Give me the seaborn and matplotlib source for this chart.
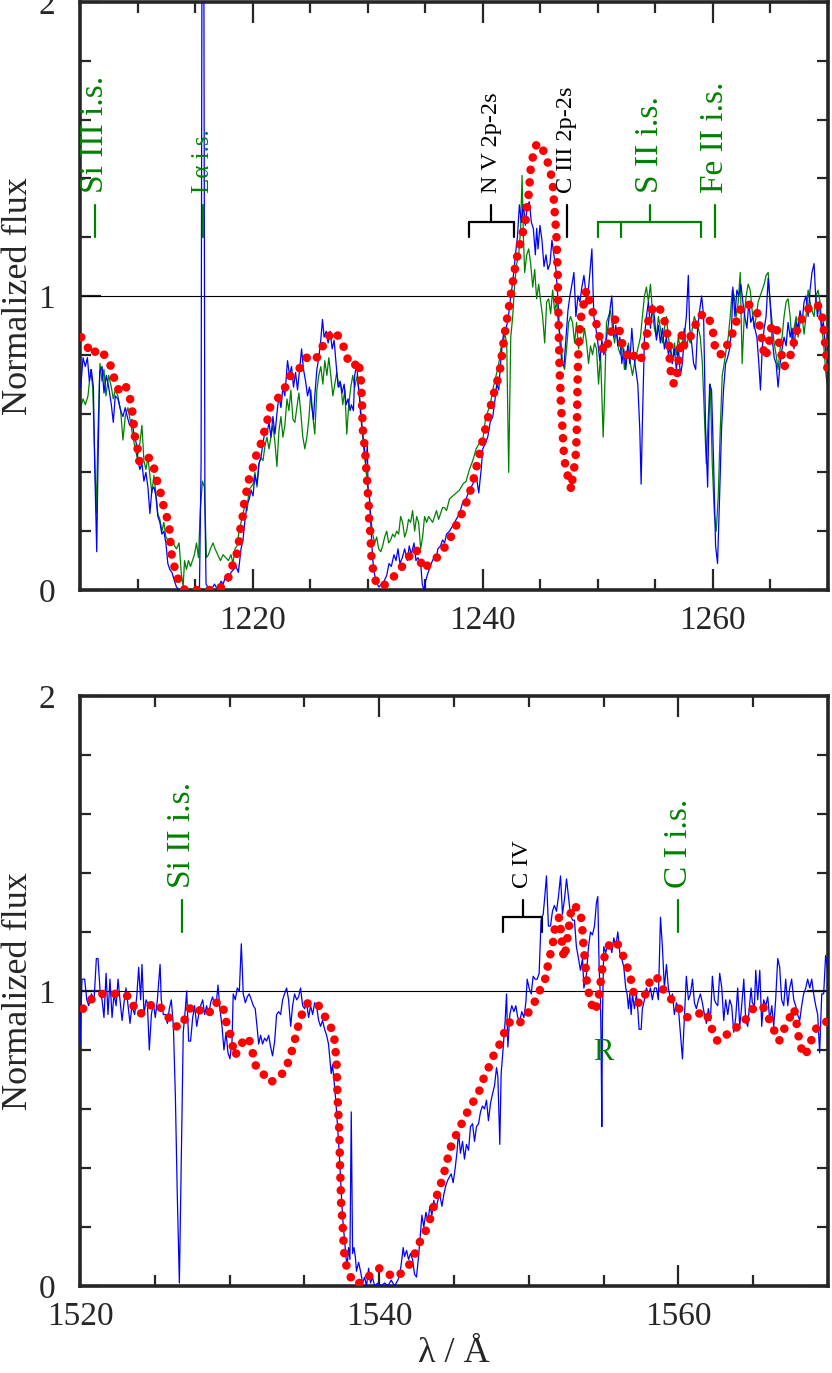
import numpy as np
import pandas as pd
import matplotlib
matplotlib.use('Agg')
import matplotlib.pyplot as plt
import seaborn as sns
from matplotlib.ticker import MultipleLocator

sns.set_style('ticks')
plt.rcParams['font.family'] = ['Liberation Serif', 'DejaVu Serif']

# ---- top panel (N V region) ----
# blue: observed spectrum
wave_blue_top = [1205.06, 1205.26, 1205.46, 1205.64, 1205.81, 1205.98, 1206.16, 1206.27, 1206.45, 1206.56,
    1206.71, 1206.91, 1207.08, 1207.28, 1207.49, 1207.72, 1207.89, 1208.06, 1208.29, 1208.53,
    1208.73, 1208.93, 1209.10, 1209.31, 1209.51, 1209.68, 1209.88, 1210.03, 1210.20, 1210.38,
    1210.55, 1210.72, 1210.90, 1211.07, 1211.24, 1211.42, 1211.59, 1211.76, 1211.94, 1212.11,
    1212.28, 1212.46, 1212.63, 1212.80, 1212.98, 1213.21, 1213.38, 1213.64, 1214.36, 1215.09,
    1215.38, 1215.52, 1215.60, 1215.75, 1215.85, 1215.95, 1216.10, 1216.39, 1216.68, 1216.97,
    1217.25, 1217.43, 1217.69, 1217.89, 1218.12, 1218.35, 1218.55, 1218.76, 1218.99, 1219.16,
    1219.34, 1219.51, 1219.71, 1219.86, 1220.03, 1220.20, 1220.38, 1220.55, 1220.72, 1220.90,
    1221.07, 1221.24, 1221.42, 1221.59, 1221.76, 1221.94, 1222.11, 1222.28, 1222.46, 1222.63,
    1222.80, 1223.03, 1223.21, 1223.38, 1223.55, 1223.73, 1223.90, 1224.08, 1224.25, 1224.42,
    1224.60, 1224.77, 1224.94, 1225.12, 1225.29, 1225.40, 1225.58, 1225.75, 1225.92, 1226.07,
    1226.21, 1226.39, 1226.56, 1226.73, 1226.91, 1227.08, 1227.25, 1227.43, 1227.60, 1227.77,
    1227.95, 1228.12, 1228.29, 1228.47, 1228.58, 1228.76, 1228.87, 1229.05, 1229.16, 1229.28,
    1229.39, 1229.54, 1229.68, 1229.83, 1229.97, 1230.03, 1230.14, 1230.26, 1230.38, 1230.49,
    1230.69, 1230.98, 1231.18, 1231.42, 1231.65, 1231.85, 1232.05, 1232.28, 1232.46, 1232.63,
    1232.80, 1233.01, 1233.21, 1233.44, 1233.61, 1233.79, 1234.02, 1234.19, 1234.36, 1234.60,
    1234.74, 1234.88, 1235.03, 1235.17, 1235.35, 1235.52, 1235.75, 1235.92, 1236.10, 1236.33,
    1236.50, 1236.68, 1236.85,
    1237.11, 1237.40, 1237.69, 1237.98, 1238.27, 1238.55, 1238.84, 1239.13, 1239.42, 1239.65,
    1239.86, 1240.00, 1240.23, 1240.43, 1240.64, 1240.87, 1241.04, 1241.21, 1241.39, 1241.50,
    1241.68, 1241.85, 1242.02, 1242.20, 1242.37, 1242.54, 1242.72, 1242.83, 1243.01, 1243.18,
    1243.35, 1243.53, 1243.70, 1243.87, 1244.05, 1244.22, 1244.39, 1244.57, 1244.68, 1244.80,
    1244.97, 1245.14, 1245.32, 1245.49, 1245.66, 1245.84, 1246.01, 1246.18, 1246.36, 1246.53,
    1246.71, 1246.88, 1247.05, 1247.23, 1247.40, 1247.57, 1247.75, 1247.92, 1248.09, 1248.27,
    1248.44, 1248.61, 1248.79, 1248.96, 1249.13, 1249.31, 1249.48, 1249.65, 1249.83, 1250.00,
    1250.17, 1250.35, 1250.52, 1250.69, 1250.87, 1251.04, 1251.21, 1251.39, 1251.56, 1251.73,
    1251.91, 1252.08, 1252.25, 1252.43, 1252.60, 1252.77, 1252.95, 1253.12, 1253.29, 1253.47,
    1253.64, 1253.76, 1253.87, 1254.05, 1254.22, 1254.39, 1254.57, 1254.74, 1254.91, 1255.09,
    1255.26, 1255.43, 1255.61, 1255.78, 1255.95, 1256.13, 1256.30, 1256.47, 1256.65, 1256.82,
    1256.99, 1257.17, 1257.34, 1257.51, 1257.69, 1257.86, 1257.98, 1258.15, 1258.32, 1258.50,
    1258.67, 1258.84, 1259.02, 1259.19, 1259.36, 1259.54, 1259.71, 1259.88, 1260.06, 1260.23,
    1260.40, 1260.58, 1260.75, 1260.92, 1261.10, 1261.27, 1261.45, 1261.62, 1261.73, 1261.91,
    1262.08, 1262.25, 1262.43, 1262.60, 1262.77, 1262.95, 1263.12, 1263.29, 1263.47, 1263.64,
    1263.82, 1263.99, 1264.13, 1264.28, 1264.45, 1264.62, 1264.80, 1264.97, 1265.14, 1265.32,
    1265.49, 1265.66, 1265.84, 1266.01, 1266.18, 1266.36, 1266.53, 1266.71, 1266.88, 1267.05,
    1267.23, 1267.40, 1267.57, 1267.75, 1267.92, 1268.09, 1268.27, 1268.44, 1268.61, 1268.79,
    1268.90, 1269.08, 1269.25, 1269.42, 1269.60, 1269.77, 1270.00]
flux_blue_top = [0.69, 0.79, 0.76, 0.79, 0.71, 0.75, 0.69, 0.43, 0.13, 0.43,
    0.74, 0.76, 0.67, 0.73, 0.69, 0.63, 0.57, 0.66, 0.65, 0.61,
    0.59, 0.62, 0.59, 0.56, 0.58, 0.53, 0.50, 0.44, 0.41, 0.43,
    0.37, 0.40, 0.35, 0.26, 0.34, 0.35, 0.32, 0.25, 0.23, 0.19,
    0.20, 0.16, 0.09, 0.07, 0.06, 0.03, 0.01, 0.00, 0.00, 0.00,
    0.01, 0.43, 2.30, 2.30, 0.30, 0.02, 0.01, 0.00, 0.02, 0.00,
    0.03, 0.02, 0.05, 0.03, 0.06, 0.07, 0.08, 0.06, 0.14, 0.17,
    0.24, 0.29, 0.31, 0.34, 0.32, 0.39, 0.36, 0.43, 0.45, 0.50,
    0.54, 0.53, 0.57, 0.52, 0.59, 0.53, 0.60, 0.66, 0.62, 0.69,
    0.66, 0.78, 0.73, 0.76, 0.69, 0.74, 0.68, 0.75, 0.82, 0.75,
    0.71, 0.66, 0.69, 0.63, 0.58, 0.66, 0.75, 0.79, 0.85, 0.92,
    0.86, 0.88, 0.84, 0.88, 0.82, 0.85, 0.77, 0.69, 0.71, 0.67,
    0.70, 0.63, 0.65, 0.61, 0.63, 0.61, 0.73, 0.77, 0.70, 0.66,
    0.59, 0.54, 0.50, 0.43, 0.49, 0.34, 0.32, 0.23, 0.14, 0.08,
    0.03, 0.01, 0.02, 0.03, 0.05, 0.09, 0.08, 0.12, 0.10, 0.14,
    0.09, 0.11, 0.14, 0.10, 0.15, 0.12, 0.16, 0.10, 0.11, 0.09,
    0.02, 0.00, 0.03, 0.05, 0.07, 0.09, 0.11, 0.10, 0.14, 0.15,
    0.17, 0.16, 0.19,
    0.20, 0.22, 0.24, 0.26, 0.30, 0.31, 0.34, 0.36, 0.39, 0.33,
    0.41, 0.48, 0.50, 0.52, 0.57, 0.59, 0.64, 0.70, 0.68, 0.75,
    0.83, 0.89, 0.89, 0.92, 0.98, 1.03, 1.09, 1.14, 1.20, 1.31,
    1.25, 1.31, 1.24, 1.31, 1.32, 1.25, 1.23, 1.14, 1.23, 1.16,
    1.24, 1.19, 1.10, 1.14, 1.09, 1.11, 1.19, 1.14, 1.09, 0.99,
    0.84, 0.77, 0.76, 0.86, 0.95, 1.00, 1.04, 1.08, 0.93, 1.00,
    0.98, 1.03, 1.07, 1.01, 1.00, 1.08, 1.16, 0.93, 0.89, 0.84,
    0.78, 0.85, 0.80, 0.84, 0.89, 0.95, 1.00, 0.86, 0.90, 0.83,
    0.86, 0.77, 0.82, 0.75, 0.83, 0.77, 0.89, 0.80, 0.75, 0.70,
    0.55, 0.36, 0.57, 0.86, 0.93, 0.98, 0.89, 0.97, 0.93, 0.85,
    0.90, 0.84, 0.89, 0.82, 0.86, 0.80, 0.83, 0.77, 0.82, 0.75,
    0.83, 0.73, 0.77, 0.86, 0.93, 1.07, 0.89, 0.84, 0.77, 0.75,
    0.89, 0.95, 1.00, 0.93, 0.55, 0.35, 0.70, 0.68, 0.43, 0.15,
    0.09, 0.32, 0.55, 0.68, 0.77, 0.79, 0.82, 0.89, 1.03, 0.93,
    1.02, 1.00, 1.04, 0.98, 0.93, 0.89, 0.98, 0.91, 0.93, 0.89,
    0.86, 0.77, 0.68, 0.82, 0.89, 0.93, 1.06, 0.98, 0.86, 0.79,
    0.77, 0.69, 0.77, 0.82, 0.86, 0.83, 0.91, 0.86, 0.89, 0.82,
    0.91, 0.89, 0.95, 0.91, 0.98, 1.00, 0.93, 1.02, 1.08, 1.11,
    1.02, 0.93, 0.98, 0.89, 0.91, 0.82, 0.77]

# green: second observation
wave_green_top = [1205.06, 1205.26, 1205.46, 1205.69, 1205.92, 1206.10, 1206.42, 1206.56, 1206.73, 1206.91,
    1207.08, 1207.25, 1207.49, 1207.72, 1207.89, 1208.06, 1208.29, 1208.53, 1208.73, 1208.93,
    1209.16, 1209.39, 1209.60, 1209.80, 1209.97, 1210.20, 1210.38, 1210.55, 1210.72, 1210.90,
    1211.07, 1211.24, 1211.42, 1211.59, 1211.76, 1211.94, 1212.11, 1212.28, 1212.46, 1212.63,
    1212.80, 1213.03, 1213.21, 1213.38, 1213.61, 1213.79, 1213.96, 1214.08, 1214.25, 1214.42,
    1214.60, 1214.77, 1214.94, 1215.12, 1215.29, 1215.46, 1215.64, 1215.81, 1215.98, 1216.16,
    1216.33, 1216.56, 1216.73, 1216.97, 1217.20, 1217.43, 1217.66, 1217.89, 1218.12, 1218.29,
    1218.47, 1218.64, 1218.82, 1218.99, 1219.16, 1219.34, 1219.51, 1219.68, 1219.86, 1220.03,
    1220.20, 1220.38, 1220.55, 1220.72, 1220.90, 1221.07, 1221.24, 1221.42, 1221.59, 1221.76,
    1221.94, 1222.11, 1222.28, 1222.46, 1222.63, 1222.80, 1222.98, 1223.15, 1223.32, 1223.50,
    1223.67, 1223.84, 1224.02, 1224.19, 1224.36, 1224.54, 1224.71, 1224.88, 1225.06, 1225.23,
    1225.40, 1225.58, 1225.75, 1225.92, 1226.10, 1226.27, 1226.45, 1226.62, 1226.79, 1226.97,
    1227.14, 1227.31, 1227.49, 1227.66, 1227.83, 1228.01, 1228.18, 1228.35, 1228.53, 1228.70,
    1228.87, 1229.10, 1229.28, 1229.45, 1229.62, 1229.80, 1229.97, 1230.14, 1230.26, 1230.43,
    1230.61, 1230.78, 1230.95, 1231.13, 1231.30, 1231.47, 1231.65, 1231.82, 1231.99, 1232.17,
    1232.34, 1232.51, 1232.69, 1232.86, 1233.03, 1233.21, 1233.38, 1233.55, 1233.73, 1233.90,
    1234.08, 1234.25, 1234.42, 1234.60, 1234.77, 1234.94, 1235.12, 1235.29, 1235.46, 1235.64,
    1235.81, 1235.98, 1236.16, 1236.33, 1236.50, 1236.68, 1236.85,
    1237.11, 1237.40, 1237.69, 1237.98, 1238.27, 1238.55, 1238.84, 1239.13, 1239.42, 1239.71,
    1240.00, 1240.23, 1240.46, 1240.69, 1240.92, 1241.16, 1241.39, 1241.56, 1241.73, 1241.91,
    1242.08, 1242.25, 1242.43, 1242.60, 1242.77, 1242.95, 1243.12, 1243.29, 1243.41, 1243.53,
    1243.64, 1243.82, 1243.99, 1244.16, 1244.34, 1244.51, 1244.68, 1244.86, 1245.03, 1245.20,
    1245.38, 1245.55, 1245.72, 1245.90, 1246.07, 1246.24, 1246.42, 1246.59, 1246.76, 1246.94,
    1247.11, 1247.28, 1247.46, 1247.63, 1247.80, 1247.98, 1248.15, 1248.32, 1248.50, 1248.67,
    1248.84, 1249.02, 1249.19, 1249.36, 1249.54, 1249.71, 1249.88, 1250.06, 1250.23, 1250.35,
    1250.46, 1250.58, 1250.75, 1250.92, 1251.10, 1251.27, 1251.45, 1251.62, 1251.79, 1251.97,
    1252.14, 1252.31, 1252.49, 1252.66, 1252.83, 1253.01, 1253.18, 1253.35, 1253.53, 1253.70,
    1253.87, 1254.05, 1254.22, 1254.39, 1254.57, 1254.74, 1254.91, 1255.09, 1255.26, 1255.43,
    1255.61, 1255.78, 1255.95, 1256.13, 1256.30, 1256.47, 1256.65, 1256.82, 1256.99, 1257.17,
    1257.34, 1257.51, 1257.69, 1257.86, 1258.03, 1258.21, 1258.38, 1258.55, 1258.73, 1258.90,
    1259.08, 1259.25, 1259.42, 1259.60, 1259.77, 1259.94, 1260.12, 1260.29, 1260.46, 1260.64,
    1260.81, 1260.98, 1261.16, 1261.33, 1261.50, 1261.68, 1261.85, 1262.02, 1262.20, 1262.37,
    1262.54, 1262.72, 1262.89, 1263.06, 1263.24, 1263.41, 1263.58, 1263.76, 1263.93, 1264.10,
    1264.28, 1264.45, 1264.62, 1264.80, 1264.97, 1265.14, 1265.32, 1265.49, 1265.66, 1265.84,
    1266.01, 1266.18, 1266.36, 1266.53, 1266.71, 1266.88, 1267.05, 1267.23, 1267.40, 1267.57,
    1267.75, 1267.92, 1268.09, 1268.27, 1268.44, 1268.61, 1268.79, 1268.96, 1269.13, 1269.31,
    1269.48, 1269.65, 1269.83, 1270.00]
flux_green_top = [0.62, 0.65, 0.63, 0.66, 0.75, 0.69, 0.26, 0.54, 0.77, 0.71,
    0.75, 0.66, 0.73, 0.69, 0.65, 0.68, 0.66, 0.61, 0.51, 0.59,
    0.62, 0.57, 0.52, 0.48, 0.45, 0.50, 0.56, 0.44, 0.41, 0.45,
    0.39, 0.33, 0.39, 0.33, 0.26, 0.24, 0.20, 0.23, 0.18, 0.17,
    0.16, 0.17, 0.15, 0.14, 0.16, 0.06, 0.01, 0.10, 0.07, 0.10,
    0.08, 0.10, 0.12, 0.16, 0.11, 0.28, 0.37, 0.35, 0.11, 0.12,
    0.14, 0.16, 0.14, 0.12, 0.10, 0.12, 0.11, 0.10, 0.12, 0.09,
    0.14, 0.15, 0.20, 0.23, 0.26, 0.29, 0.27, 0.34, 0.35, 0.36,
    0.40, 0.35, 0.43, 0.45, 0.44, 0.49, 0.52, 0.48, 0.52, 0.56,
    0.50, 0.42, 0.54, 0.59, 0.52, 0.56, 0.65, 0.61, 0.68, 0.58,
    0.57, 0.62, 0.67, 0.60, 0.52, 0.48, 0.52, 0.58, 0.68, 0.59,
    0.53, 0.68, 0.73, 0.76, 0.70, 0.78, 0.73, 0.79, 0.73, 0.66,
    0.70, 0.74, 0.69, 0.70, 0.63, 0.68, 0.53, 0.63, 0.69, 0.73,
    0.69, 0.73, 0.66, 0.59, 0.49, 0.43, 0.36, 0.32, 0.25, 0.19,
    0.16, 0.18, 0.14, 0.13, 0.15, 0.18, 0.20, 0.16, 0.17, 0.19,
    0.18, 0.20, 0.19, 0.25, 0.23, 0.18, 0.20, 0.24, 0.23, 0.27,
    0.20, 0.25, 0.23, 0.14, 0.18, 0.25, 0.23, 0.25, 0.24, 0.23,
    0.25, 0.27, 0.24, 0.26, 0.28, 0.28, 0.27,
    0.31, 0.32, 0.33, 0.34, 0.36, 0.37, 0.41, 0.44, 0.48, 0.50,
    0.51, 0.58, 0.61, 0.64, 0.69, 0.73, 0.77, 0.82, 0.84, 0.87,
    0.84, 0.40, 0.86, 0.93, 1.04, 1.11, 1.14, 1.23, 1.41, 1.20,
    1.08, 1.14, 1.16, 1.11, 1.03, 1.09, 0.99, 1.04, 0.98, 0.93,
    0.84, 0.98, 0.99, 0.94, 1.02, 0.95, 0.98, 0.89, 0.86, 0.77,
    0.75, 0.82, 0.91, 0.93, 0.91, 0.84, 0.91, 0.82, 0.86, 0.84,
    0.89, 0.84, 0.77, 0.83, 0.80, 0.84, 0.82, 0.70, 0.80, 0.66,
    0.52, 0.66, 0.91, 0.93, 0.95, 0.89, 0.84, 0.89, 0.82, 0.80,
    0.84, 0.75, 0.80, 0.84, 0.77, 0.73, 0.77, 0.80, 0.83, 0.86,
    0.93, 1.00, 1.03, 0.98, 1.04, 0.95, 0.89, 0.86, 0.93, 0.89,
    0.84, 0.89, 0.93, 0.86, 0.82, 0.77, 0.84, 0.80, 0.86, 0.82,
    0.84, 0.89, 0.82, 0.86, 0.84, 0.89, 0.93, 0.91, 0.89, 0.86,
    0.77, 0.60, 0.43, 0.59, 0.70, 0.43, 0.26, 0.20, 0.32, 0.55,
    0.73, 0.77, 0.82, 0.86, 0.93, 1.02, 1.00, 0.93, 0.98, 1.08,
    0.77, 0.93, 1.00, 1.04, 1.02, 0.95, 0.89, 0.93, 0.98, 1.00,
    1.02, 1.04, 1.07, 1.08, 0.98, 0.91, 0.84, 0.80, 0.75, 0.82,
    0.86, 0.93, 0.98, 0.99, 0.93, 0.84, 0.89, 0.93, 0.86, 0.91,
    0.93, 0.87, 0.93, 1.02, 0.98, 0.95, 0.93, 1.00, 1.02, 0.98,
    0.89, 0.82, 0.73, 0.68]

# red: model
wave_model_top = [1205.1, 1205.6, 1206.0, 1206.6, 1207.1, 1207.6, 1207.9, 1208.1, 1208.5, 1209.0,
    1209.3, 1209.5, 1209.7, 1209.8, 1210.0, 1210.1, 1210.5, 1211.0, 1211.4, 1211.6,
    1211.9, 1212.1, 1212.3, 1212.6, 1212.8, 1212.9, 1213.1, 1213.3, 1213.6, 1214.1,
    1215.1, 1216.0, 1217.0, 1217.5, 1218.0, 1218.3, 1218.6, 1218.8, 1218.9, 1219.1,
    1219.2, 1219.3, 1219.5, 1219.7, 1220.0, 1220.1, 1220.6, 1220.8, 1221.1, 1221.3,
    1221.5, 1222.0, 1222.5, 1223.0, 1223.3, 1223.8, 1224.2, 1224.7, 1225.4, 1225.9,
    1226.2, 1226.5, 1227.2, 1227.6, 1228.0, 1228.3, 1228.8, 1229.2, 1229.3, 1229.4,
    1229.45, 1229.5, 1229.52, 1229.55, 1229.6, 1229.7, 1229.8, 1229.85, 1229.9, 1230.0,
    1230.02, 1230.1, 1230.12, 1230.2, 1230.25, 1230.3, 1230.33, 1230.5, 1230.7, 1231.2,
    1231.9, 1232.6, 1233.2, 1233.7, 1234.2, 1234.5, 1234.8, 1235.4, 1236.0, 1236.6,
    1237.1, 1237.7, 1238.3, 1238.7, 1239.1, 1239.4, 1239.7, 1240.0, 1240.3, 1240.6,
    1240.9, 1241.2, 1241.5, 1241.7, 1241.9, 1242.1, 1242.3, 1242.5, 1242.7, 1242.9,
    1243.2, 1243.5, 1243.7, 1243.8, 1244.0, 1244.1, 1244.2, 1244.4, 1244.7, 1245.2,
    1245.6, 1245.9, 1246.1, 1246.2, 1246.3, 1246.4, 1246.45, 1246.5, 1246.52, 1246.55,
    1246.58, 1246.6, 1246.63, 1246.66, 1246.7, 1246.75, 1246.8, 1246.88, 1246.95, 1247.0,
    1247.1, 1247.3, 1247.7, 1247.8, 1248.0, 1248.1, 1248.15, 1248.18, 1248.2, 1248.22,
    1248.24, 1248.27, 1248.32, 1248.4, 1248.5, 1248.7, 1249.0, 1249.2, 1249.5, 1249.8,
    1250.0, 1250.3, 1250.5, 1250.9, 1251.3, 1251.5, 1251.9, 1252.1, 1252.4, 1252.8,
    1253.2, 1253.7, 1254.2, 1254.4, 1254.6, 1255.2, 1255.6, 1255.9, 1256.2, 1256.25,
    1256.3, 1256.6, 1256.9, 1257.3, 1257.5, 1257.9, 1258.4, 1258.7, 1259.4, 1259.8,
    1260.1, 1260.2, 1260.8, 1261.2, 1261.6, 1261.9, 1262.3, 1262.5, 1263.3, 1263.8,
    1264.1, 1264.3, 1264.5, 1264.8, 1265.1, 1265.5, 1265.7, 1265.9, 1266.2, 1266.6,
    1266.9, 1267.2, 1267.5, 1267.9, 1268.5, 1269.1, 1269.5, 1269.7, 1269.9, 1270.0]
flux_model_top = [0.86, 0.83, 0.80, 0.82, 0.80, 0.77, 0.73, 0.70, 0.67, 0.69,
    0.66, 0.62, 0.55, 0.51, 0.48, 0.44, 0.43, 0.45, 0.42, 0.38,
    0.35, 0.31, 0.28, 0.24, 0.20, 0.13, 0.10, 0.06, 0.03, 0.00,
    0.00, 0.00, 0.00, 0.02, 0.05, 0.09, 0.12, 0.16, 0.20, 0.24,
    0.27, 0.31, 0.34, 0.38, 0.41, 0.44, 0.48, 0.51, 0.55, 0.58,
    0.62, 0.64, 0.67, 0.70, 0.73, 0.74, 0.76, 0.79, 0.78, 0.81,
    0.84, 0.86, 0.88, 0.85, 0.82, 0.78, 0.76, 0.78, 0.75, 0.72,
    0.68, 0.64, 0.61, 0.57, 0.53, 0.50, 0.46, 0.43, 0.39, 0.35,
    0.32, 0.28, 0.24, 0.21, 0.17, 0.14, 0.10, 0.06, 0.03, 0.01,
    0.03, 0.06, 0.09, 0.12, 0.14, 0.11, 0.07, 0.09, 0.11, 0.14,
    0.17, 0.22, 0.27, 0.31, 0.36, 0.41, 0.46, 0.51, 0.56, 0.61,
    0.66, 0.70, 0.75, 0.81, 0.87, 0.92, 0.97, 1.02, 1.07, 1.12,
    1.17, 1.22, 1.25, 1.29, 1.35, 1.40, 1.45, 1.48, 1.52, 1.50,
    1.46, 1.42, 1.37, 1.31, 1.26, 1.20, 1.14, 1.09, 1.04, 0.98,
    0.93, 0.87, 0.83, 0.77, 0.72, 0.68, 0.62, 0.58, 0.53, 0.49,
    0.44, 0.40, 0.34, 0.38, 0.43, 0.47, 0.52, 0.57, 0.62, 0.67,
    0.72, 0.77, 0.82, 0.87, 0.92, 0.96, 1.02, 0.99, 0.95, 0.92,
    0.88, 0.84, 0.81, 0.84, 0.90, 0.92, 0.88, 0.84, 0.81, 0.78,
    0.80, 0.78, 0.84, 0.92, 0.95, 0.97, 0.94, 0.90, 0.83, 0.78,
    0.75, 0.70, 0.74, 0.87, 0.83, 0.85, 0.89, 0.93, 0.94, 0.91,
    0.86, 0.81, 0.80, 0.83, 0.86, 0.90, 0.94, 0.97, 0.97, 0.95,
    0.89, 0.84, 0.79, 0.82, 0.90, 0.90, 0.85, 0.81, 0.76, 0.78,
    0.82, 0.87, 0.91, 0.93, 0.97, 0.97, 0.93, 0.86, 0.78, 0.72]

# ---- bottom panel (C IV region) ----
wave_blue_bot = [1520.00, 1520.13, 1520.31, 1520.45, 1520.58, 1520.76, 1520.94, 1521.09, 1521.20, 1521.34,
    1521.47, 1521.60, 1521.74, 1521.87, 1522.00, 1522.14, 1522.27, 1522.41, 1522.54, 1522.67,
    1522.81, 1522.94, 1523.07, 1523.21, 1523.34, 1523.47, 1523.65, 1523.79, 1523.92, 1524.05,
    1524.14, 1524.28, 1524.41, 1524.50, 1524.63, 1524.77, 1524.90, 1525.03, 1525.17, 1525.35,
    1525.43, 1525.57, 1525.70, 1525.84, 1525.97, 1526.10, 1526.24, 1526.37, 1526.50, 1526.64,
    1526.77, 1526.90, 1527.04, 1527.13, 1527.26, 1527.39, 1527.53, 1527.66, 1527.80, 1527.93,
    1528.06, 1528.20, 1528.33, 1528.46, 1528.60, 1528.73, 1528.86, 1529.00, 1529.13, 1529.22,
    1529.35, 1529.49, 1529.62, 1529.76, 1529.89, 1530.02, 1530.16, 1530.24, 1530.38, 1530.51,
    1530.65, 1530.78, 1530.91, 1531.05, 1531.18, 1531.31, 1531.45, 1531.58, 1531.71, 1531.85,
    1531.94, 1532.07, 1532.20, 1532.34, 1532.47, 1532.61, 1532.74, 1532.87, 1533.01, 1533.14,
    1533.27, 1533.41, 1533.54, 1533.67, 1533.81, 1533.94, 1534.08, 1534.21, 1534.34, 1534.48,
    1534.61, 1534.74, 1534.88, 1535.01, 1535.14, 1535.28, 1535.41, 1535.55, 1535.68, 1535.81,
    1535.95, 1536.08, 1536.21, 1536.35, 1536.48, 1536.61, 1536.70, 1536.79, 1536.88, 1536.97,
    1537.06, 1537.15, 1537.24, 1537.33, 1537.42, 1537.51, 1537.60, 1537.68, 1537.77, 1537.86,
    1537.95, 1538.04, 1538.13, 1538.22, 1538.31, 1538.40, 1538.48, 1538.62, 1538.75, 1538.89,
    1539.02, 1539.15, 1539.29, 1539.42, 1539.55, 1539.69, 1539.91, 1540.13, 1540.36, 1540.58,
    1540.80, 1541.02, 1541.25, 1541.38, 1541.51, 1541.60, 1541.69, 1541.83, 1541.96, 1542.09,
    1542.23, 1542.36, 1542.49, 1542.63, 1542.76, 1542.85, 1542.98, 1543.12, 1543.25, 1543.39,
    1543.52, 1543.65, 1543.79, 1543.92, 1544.05, 1544.19, 1544.32, 1544.45, 1544.59,
    1544.81, 1544.94, 1545.08, 1545.21, 1545.30, 1545.43, 1545.57, 1545.70, 1545.83, 1545.97,
    1546.10, 1546.24, 1546.37, 1546.50, 1546.64, 1546.77, 1546.90, 1547.04, 1547.17, 1547.30,
    1547.44, 1547.57, 1547.71, 1547.84, 1547.93, 1548.06, 1548.15, 1548.29, 1548.42, 1548.51,
    1548.60, 1548.73, 1548.86, 1549.00, 1549.13, 1549.26, 1549.40, 1549.53, 1549.67, 1549.80,
    1549.89, 1550.02, 1550.16, 1550.29, 1550.42, 1550.56, 1550.69, 1550.82, 1550.96, 1551.05,
    1551.18, 1551.31, 1551.45, 1551.58, 1551.71, 1551.85, 1551.98, 1552.12, 1552.25, 1552.38,
    1552.52, 1552.65, 1552.78, 1552.92, 1553.05, 1553.18, 1553.32, 1553.45, 1553.59, 1553.68,
    1553.77, 1553.86, 1553.99, 1554.12, 1554.25, 1554.39, 1554.52, 1554.61, 1554.70, 1554.79,
    1554.83, 1554.88, 1554.92, 1555.01, 1555.14, 1555.28, 1555.41, 1555.55, 1555.68, 1555.81,
    1555.95, 1556.08, 1556.21, 1556.35, 1556.48, 1556.57, 1556.66, 1556.75, 1556.84, 1556.93,
    1557.06, 1557.19, 1557.28, 1557.37, 1557.51, 1557.59, 1557.73, 1557.86, 1558.00, 1558.13,
    1558.26, 1558.40, 1558.53, 1558.66, 1558.80, 1558.93, 1559.06, 1559.20, 1559.33, 1559.47,
    1559.60, 1559.73, 1559.87, 1560.00, 1560.13, 1560.27, 1560.40, 1560.53, 1560.67, 1560.80,
    1560.94, 1561.07, 1561.20, 1561.34, 1561.47, 1561.60, 1561.74, 1561.87, 1562.00, 1562.14,
    1562.27, 1562.41, 1562.49, 1562.63, 1562.76, 1562.90, 1563.03, 1563.16, 1563.30, 1563.43,
    1563.56, 1563.70, 1563.83, 1563.96, 1564.10, 1564.23, 1564.37, 1564.50, 1564.63, 1564.77,
    1564.86, 1564.94, 1565.08, 1565.17, 1565.30, 1565.44, 1565.57, 1565.70, 1565.84, 1565.97,
    1566.11, 1566.24, 1566.37, 1566.50, 1566.64, 1566.77, 1566.90, 1567.04, 1567.17, 1567.31,
    1567.44, 1567.57, 1567.71, 1567.84, 1567.97, 1568.11, 1568.24, 1568.37, 1568.51, 1568.64,
    1568.78, 1568.91, 1569.04, 1569.18, 1569.31, 1569.44, 1569.58, 1569.71, 1569.84, 1570.02]
flux_blue_bot = [0.82, 1.04, 1.04, 0.97, 0.95, 0.99, 0.97, 1.11, 1.11, 1.00,
    0.97, 0.91, 1.06, 0.92, 1.04, 0.91, 0.99, 0.95, 1.04, 0.97,
    0.90, 0.96, 1.01, 0.95, 0.89, 0.95, 0.92, 0.98, 1.08, 0.97,
    1.09, 0.92, 0.97, 0.96, 0.80, 0.92, 0.96, 0.91, 0.97, 1.09,
    0.97, 0.92, 0.92, 0.89, 0.94, 0.97, 0.88, 0.65, 0.31, 0.01,
    0.43, 0.86, 0.94, 1.00, 0.83, 0.83, 0.91, 0.95, 0.88, 0.92,
    0.95, 0.97, 0.92, 0.95, 0.92, 0.96, 0.98, 0.95, 0.97, 1.02,
    0.94, 0.88, 0.80, 0.86, 0.79, 0.77, 0.83, 0.99, 0.97, 1.01,
    1.00, 1.16, 0.99, 0.96, 0.98, 0.99, 0.97, 0.95, 0.94, 0.87,
    0.82, 0.85, 0.82, 0.84, 0.83, 0.85, 0.81, 0.78, 0.83, 0.92,
    0.93, 0.92, 0.97, 0.99, 1.01, 0.97, 0.88, 0.95, 0.99, 0.97,
    0.98, 1.01, 0.95, 0.94, 0.96, 0.91, 0.95, 0.92, 0.96, 0.95,
    0.90, 0.88, 0.90, 0.87, 0.85, 0.82, 0.77, 0.72, 0.75, 0.70,
    0.65, 0.59, 0.52, 0.45, 0.36, 0.27, 0.20, 0.16, 0.10, 0.07,
    0.13, 0.09, 0.59, 0.11, 0.13, 0.10, 0.05, 0.08, 0.05, 0.01,
    0.03, 0.00, 0.06, 0.01, 0.03, 0.00, 0.01, 0.00, 0.01, 0.00,
    0.02, 0.00, 0.02, 0.04, 0.09, 0.13, 0.10, 0.12, 0.09, 0.11,
    0.09, 0.04, 0.03, 0.10, 0.18, 0.24, 0.20, 0.25, 0.22, 0.27,
    0.24, 0.29, 0.26, 0.29, 0.31, 0.27, 0.31, 0.34, 0.36,
    0.38, 0.35, 0.40, 0.46, 0.52, 0.45, 0.49, 0.43, 0.48, 0.46,
    0.54, 0.55, 0.49, 0.54, 0.55, 0.59, 0.61, 0.60, 0.63, 0.56,
    0.62, 0.65, 0.68, 0.74, 0.71, 0.48, 0.72, 0.81, 0.90, 0.99,
    0.81, 0.92, 0.95, 0.93, 0.95, 0.91, 0.90, 0.93, 0.91, 0.96,
    1.04, 1.01, 0.99, 1.05, 1.04, 1.04, 1.06, 1.24, 1.26, 1.31,
    1.39, 1.22, 1.22, 1.27, 1.29, 1.27, 1.32, 1.39, 1.26, 1.31,
    1.38, 1.32, 1.26, 1.24, 1.24, 1.15, 1.11, 1.07, 1.11, 1.01,
    1.03, 1.06, 1.15, 1.20, 1.19, 1.22, 1.30, 1.32, 1.08, 0.97,
    0.83, 0.54, 0.90, 1.15, 1.13, 1.16, 1.16, 1.13, 1.18, 1.15,
    1.20, 1.13, 1.11, 1.08, 1.01, 0.99, 0.94, 0.99, 0.92, 0.99,
    0.94, 0.99, 0.94, 0.87, 0.87, 0.94, 0.97, 1.01, 0.99, 1.01,
    0.97, 1.01, 1.01, 0.97, 1.25, 1.15, 1.01, 1.09, 1.01, 0.97,
    0.99, 0.92, 0.96, 0.94, 0.86, 0.77, 0.91, 1.05, 0.97, 0.99,
    1.04, 0.96, 0.94, 0.97, 0.99, 0.96, 0.92, 0.89, 0.94, 0.90,
    1.05, 0.97, 0.96, 0.95, 1.06, 1.01, 0.90, 0.97, 0.92, 0.97,
    0.95, 0.86, 0.91, 1.01, 0.88, 0.95, 1.04, 0.90, 0.88, 0.96,
    1.01, 0.96, 0.95, 1.07, 0.97, 1.07, 0.88, 0.97, 0.95, 0.98,
    0.90, 0.95, 0.88, 0.97, 1.11, 1.08, 0.97, 0.95, 1.04, 0.95,
    1.01, 1.04, 0.97, 0.95, 0.92, 0.90, 0.95, 0.99, 1.01, 1.04,
    1.01, 1.04, 0.99, 0.95, 0.92, 0.79, 0.99, 0.99, 1.12, 1.06]

wave_model_bot = [1520.20, 1520.71, 1521.31, 1522.05, 1522.76, 1523.32, 1523.65, 1523.99, 1524.43, 1524.94,
    1525.48, 1525.92, 1526.33, 1526.82, 1527.04, 1527.33, 1527.77, 1528.22, 1528.73, 1529.00,
    1529.49, 1529.67, 1529.84, 1530.07, 1530.33, 1530.73, 1530.96, 1531.27, 1531.45, 1531.78,
    1532.23, 1532.67, 1533.12, 1533.72, 1534.12, 1534.34, 1534.52, 1534.83, 1535.23, 1535.63,
    1535.95, 1536.30, 1536.61, 1536.95, 1537.06, 1537.15, 1537.19, 1537.24, 1537.28, 1537.33,
    1537.35, 1537.36, 1537.37, 1537.39, 1537.42, 1537.44, 1537.46, 1537.51, 1537.55, 1537.60,
    1537.62, 1537.69, 1537.80, 1538.02, 1538.24, 1538.80, 1539.47, 1540.02, 1540.58, 1541.20,
    1541.80, 1542.14, 1542.47, 1542.81, 1543.14, 1543.36, 1543.59, 1543.81, 1544.14, 1544.48,
    1544.70,
    1545.01, 1545.34, 1545.68, 1546.01, 1546.35, 1546.68, 1546.95, 1547.24, 1547.53, 1547.84,
    1548.17, 1548.57, 1549.02, 1549.35, 1549.76, 1550.13, 1550.47, 1550.80, 1551.09, 1551.25,
    1551.36, 1551.58, 1551.76, 1552.03, 1552.20, 1552.25, 1552.36, 1552.47, 1552.58, 1552.69,
    1552.87, 1553.32, 1553.54, 1553.63, 1553.70, 1553.76, 1553.81, 1553.88, 1554.03, 1554.14,
    1554.43, 1554.65, 1554.74, 1554.83, 1554.92, 1555.03, 1555.19, 1555.55, 1555.92, 1556.15,
    1556.37, 1556.59, 1556.82, 1556.97, 1557.26, 1557.59, 1557.86, 1558.15, 1558.53, 1558.89,
    1559.27, 1559.55, 1559.82, 1560.16, 1560.53, 1561.16, 1561.83, 1562.05, 1562.32, 1562.61,
    1563.05, 1563.50, 1564.10, 1564.61, 1564.99, 1565.61, 1565.95, 1566.17, 1566.46, 1566.73,
    1567.06, 1567.44, 1567.73, 1567.84, 1568.02, 1568.17, 1568.46, 1568.73, 1569.00, 1569.29,
    1569.73, 1570.02]
flux_model_bot = [0.94, 0.97, 0.99, 0.99, 0.99, 0.98, 0.94, 0.92, 0.94, 0.96,
    0.94, 0.91, 0.88, 0.88, 0.91, 0.94, 0.95, 0.92, 0.93, 0.96,
    0.96, 0.92, 0.88, 0.85, 0.78, 0.81, 0.84, 0.84, 0.81, 0.74,
    0.72, 0.69, 0.70, 0.73, 0.79, 0.83, 0.87, 0.92, 0.96, 0.96,
    0.95, 0.92, 0.89, 0.86, 0.81, 0.75, 0.68, 0.61, 0.57, 0.53,
    0.49, 0.46, 0.42, 0.39, 0.35, 0.31, 0.27, 0.24, 0.21, 0.17,
    0.13, 0.10, 0.07, 0.04, 0.01, 0.01, 0.04, 0.06, 0.04, 0.03,
    0.06, 0.08, 0.12, 0.16, 0.19, 0.22, 0.26, 0.30, 0.35, 0.41,
    0.46,
    0.50, 0.53, 0.57, 0.60, 0.63, 0.66, 0.70, 0.73, 0.77, 0.80,
    0.83, 0.89, 0.90, 0.89, 0.91, 0.94, 0.97, 1.01, 1.04, 1.08,
    1.11, 1.15, 1.22, 1.25, 1.18, 1.14, 1.11, 1.14, 1.18, 1.22,
    1.29, 1.28, 1.24, 1.17, 1.13, 1.10, 1.07, 1.03, 0.99, 0.96,
    0.93, 0.97, 1.01, 1.04, 1.08, 1.11, 1.14, 1.17, 1.16, 1.14,
    1.11, 1.08, 1.04, 1.00, 0.96, 0.96, 1.00, 1.04, 1.05, 1.01,
    0.99, 0.97, 0.96, 0.93, 0.91, 0.92, 0.93, 0.90, 0.86, 0.83,
    0.84, 0.87, 0.88, 0.91, 0.94, 0.95, 0.92, 0.89, 0.86, 0.83,
    0.87, 0.91, 0.94, 0.91, 0.85, 0.81, 0.78, 0.81, 0.85, 0.88,
    0.89, 0.90]

# line identifications: (wavelengths, label, colour, fontsize)
marks_top = [([1206.3], 'Si III i.s.', 'green', 24),
             ([1215.67], 'L\u03b1 i.s.', 'green', 18),
             ([1238.8, 1242.7], 'N V 2p-2s', 'black', 17.5),
             ([1247.3], 'C III 2p-2s', 'black', 17.5),
             ([1250.0, 1252.0, 1259.0], 'S II i.s.', 'green', 24),
             ([1260.2], 'Fe II i.s.', 'green', 24)]
marks_bot = [([1526.8], 'Si II i.s.', 'green', 24),
             ([1548.3, 1550.9], 'C IV', 'black', 17.5),
             ([1560.0], 'C I i.s.', 'green', 24)]

GREEN = '#008000'
FONT_TICK = 24


def draw_marks(ax, marks):
    for waves, label, col, fs in marks:
        c = GREEN if col == 'green' else 'black'
        if len(waves) == 1:
            xc = waves[0]
            ax.plot([xc, xc], [1.2, 1.31], color=c, lw=1.6, zorder=5)
        else:
            for w in waves:
                ax.plot([w, w], [1.2, 1.25], color=c, lw=1.6, zorder=5)
            ax.plot([min(waves), max(waves)], [1.25, 1.25], color=c, lw=1.6, zorder=5)
            xc = 0.5 * (min(waves) + max(waves))
            ax.plot([xc, xc], [1.25, 1.31], color=c, lw=1.6, zorder=5)
        ax.text(xc, 1.35, label, rotation=90, ha='center', va='bottom',
                color=c, fontsize=fs, zorder=5)


def style_axes(ax, xlim, xmajor):
    ax.set_xlim(*xlim)
    ax.set_ylim(0, 2)
    ax.xaxis.set_major_locator(MultipleLocator(xmajor))
    ax.xaxis.set_minor_locator(MultipleLocator(5))
    ax.yaxis.set_major_locator(MultipleLocator(1))
    ax.yaxis.set_minor_locator(MultipleLocator(0.2))
    ax.tick_params(which='both', direction='in', top=True, right=True, width=1.6)
    ax.tick_params(which='major', length=15, labelsize=FONT_TICK)
    ax.tick_params(which='minor', length=8)
    ax.tick_params(axis='x', which='major', pad=11)
    ax.tick_params(axis='y', which='major', pad=18)
    for sp in ax.spines.values():
        sp.set_linewidth(2.6)
    ax.axhline(1.0, color='black', lw=0.8, zorder=1)
    ax.set_ylabel('Normalized flux', fontsize=26)
    ax.yaxis.set_label_coords(-0.06, 0.5)


fig = plt.figure(figsize=(8.32, 13.73), dpi=100)
ax1 = fig.add_axes([0.0962, 0.5703, 0.8990, 0.4283])
ax2 = fig.add_axes([0.0962, 0.0634, 0.8990, 0.4297])

dots = dict(linestyle=(0, (0.01, 1.45)), dash_capstyle='round', lw=6.2, color='#ff0000')

top_green = pd.DataFrame({'wave': wave_green_top, 'flux': flux_green_top})
top_blue = pd.DataFrame({'wave': wave_blue_top, 'flux': flux_blue_top})
top_model = pd.DataFrame({'wave': wave_model_top, 'flux': flux_model_top})
sns.lineplot(data=top_green, x='wave', y='flux', ax=ax1, estimator=None, sort=False,
             color=GREEN, lw=0.9, zorder=2)
sns.lineplot(data=top_blue, x='wave', y='flux', ax=ax1, estimator=None, sort=False,
             color='#0000ff', lw=0.9, zorder=3)
sns.lineplot(data=top_model, x='wave', y='flux', ax=ax1, estimator=None, sort=False,
             zorder=4, **dots)
style_axes(ax1, (1205, 1270), 20)
ax1.set_xlabel('')
draw_marks(ax1, marks_top)

bot_blue = pd.DataFrame({'wave': wave_blue_bot, 'flux': flux_blue_bot})
bot_model = pd.DataFrame({'wave': wave_model_bot, 'flux': flux_model_bot})
sns.lineplot(data=bot_blue, x='wave', y='flux', ax=ax2, estimator=None, sort=False,
             color='#0000ff', lw=0.9, zorder=3)
sns.lineplot(data=bot_model, x='wave', y='flux', ax=ax2, estimator=None, sort=False,
             zorder=4, **dots)
style_axes(ax2, (1520, 1570), 20)
ax2.set_xlabel('\u03bb / \u00c5', fontsize=26, labelpad=4)
draw_marks(ax2, marks_bot)
ax2.text(1555.0, 0.79, 'R', color=GREEN, fontsize=22, ha='center', va='center')

fig.savefig('out.png', dpi=100)
